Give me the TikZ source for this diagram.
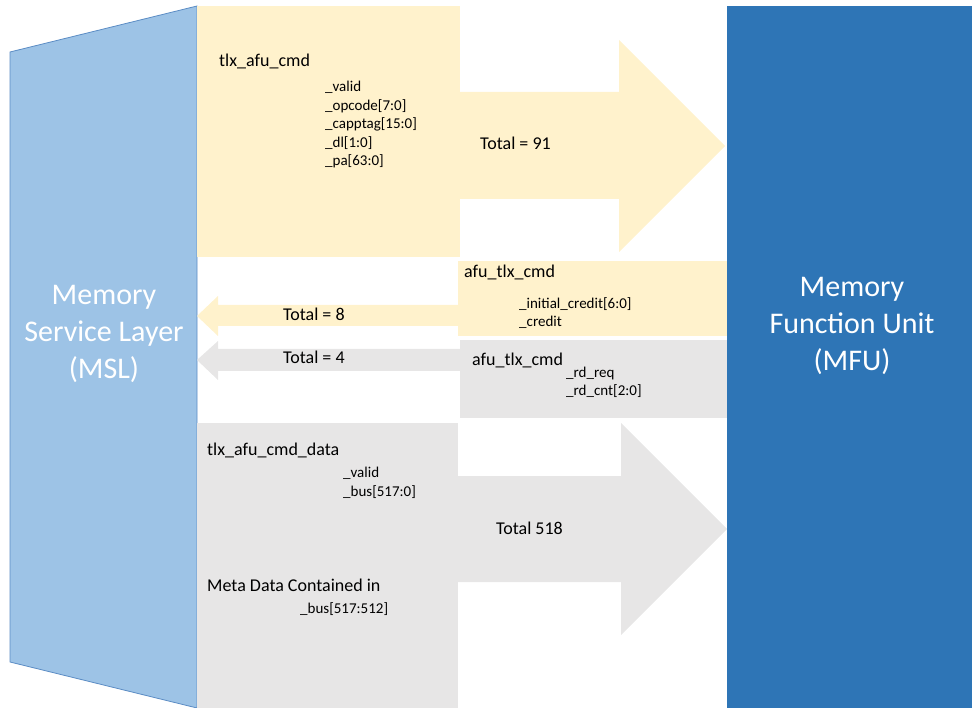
\documentclass[tikz,border=0pt]{standalone}
\usepackage{fontspec}
\setmainfont{Carlito}
\usetikzlibrary{positioning}
\definecolor{mslblue}{HTML}{9DC3E6}
\definecolor{msledge}{HTML}{5B8CC4}
\definecolor{mfublue}{HTML}{2E75B6}
\definecolor{cmdyellow}{HTML}{FFF2CC}
\definecolor{rdgray}{HTML}{E7E6E6}
\tikzstyle{unit} = [text=white, align=center, inner sep=0pt, font=\fontsize{30}{37}\selectfont]
\tikzstyle{sig} = [anchor=base west, inner sep=0pt, font=\fontsize{18}{22}\selectfont]
\tikzstyle{field} = [anchor=base west, inner sep=0pt, font=\fontsize{15}{18}\selectfont]

\begin{document}
\begin{tikzpicture}[x=1pt, y=-1pt]
	\useasboundingbox (0,0) rectangle (972,708);
	% the two units
	\filldraw[fill=mslblue, draw=msledge, line width=0.8pt] (10,52) -- (197,6) -- (197,708) -- (10,662) -- cycle;
	\fill[mfublue] (727,6) rectangle (972,708);
	\node (MSL) [unit] at (104,334) {Memory\\Service Layer\\(MSL)};
	\node (MFU) [unit] at (852,326) {Memory\\Function Unit\\(MFU)};

	% tlx_afu_cmd
	\fill[cmdyellow] (197,6) rectangle (460,257);
	\fill[cmdyellow] (460,92) -- (619,92) -- (619,40) -- (725,146) -- (619,252) -- (619,199) -- (460,199) -- cycle;
	\node (CmdName) [sig] at (219,67) {tlx\_afu\_cmd};
	\foreach \f [count=\i from 0] in {\_valid, \_opcode[7:0], \_capptag[15:0], \_dl[1:0], \_pa[63:0]}
		\node (Cmd\i) [field] at (325,92+18.5*\i) {\f};
	\node (CmdTotal) [sig] at (480,150) {Total = 91};

	% afu_tlx_cmd credits
	\fill[cmdyellow] (458,261) rectangle (727,336);
	\fill[cmdyellow] (458,305) -- (218,305) -- (218,296) -- (197,316) -- (218,336) -- (218,326) -- (458,326) -- cycle;
	\node (CredName) [sig] at (464,278) {afu\_tlx\_cmd};
	\node (Cred0) [field] at (519,309) {\_initial\_credit[6:0]};
	\node (Cred1) [field] at (519,327) {\_credit};
	\node (CredTotal) [sig] at (283,321) {Total = 8};

	% afu_tlx_cmd read requests
	\fill[rdgray] (460,340) rectangle (727,418);
	\fill[rdgray] (460,349) -- (218,349) -- (218,341) -- (197,360) -- (218,380) -- (218,371) -- (460,371) -- cycle;
	\node (RdName) [sig] at (472,366) {afu\_tlx\_cmd};
	\node (Rd0) [field] at (566,378) {\_rd\_req};
	\node (Rd1) [field] at (566,396) {\_rd\_cnt[2:0]};
	\node (RdTotal) [sig] at (283,364) {Total = 4};

	% tlx_afu_cmd_data
	\fill[rdgray] (197,423) rectangle (458,708);
	\fill[rdgray] (458,476) -- (621,476) -- (621,423) -- (727,529) -- (621,635) -- (621,582) -- (458,582) -- cycle;
	\node (DataName) [sig] at (207,455) {tlx\_afu\_cmd\_data};
	\node (Data0) [field] at (343,477) {\_valid};
	\node (Data1) [field] at (343,496) {\_bus[517:0]};
	\node (DataTotal) [sig] at (496,534) {Total 518};
	\node (Meta) [sig] at (207,591) {Meta Data Contained in};
	\node (MetaBus) [field] at (300,613) {\_bus[517:512]};
\end{tikzpicture}
\end{document}
